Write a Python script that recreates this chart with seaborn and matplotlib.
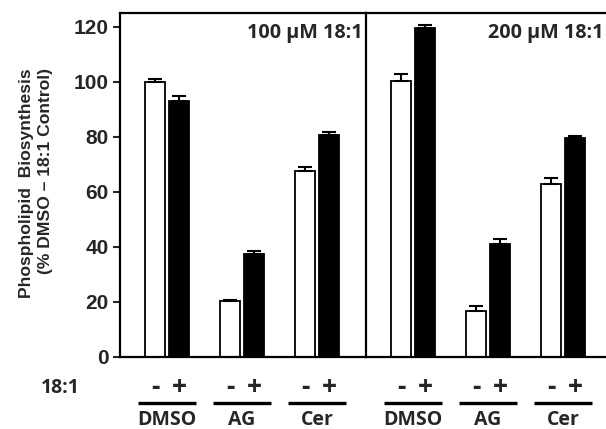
import numpy as np
import pandas as pd
import matplotlib
matplotlib.use("Agg")
import matplotlib.pyplot as plt
import matplotlib.transforms as mtransforms
import seaborn as sns

# ---- data ----
panels = ["100 µM 18:1", "200 µM 18:1"]
treatments = ["DMSO", "AG", "Cer"]
fa_levels = ["-", "+"]
# values (% DMSO - 18:1 control): rows = treatment, [minus, plus]
vals_100_minus = [100.0, 20.2, 67.7]
vals_100_plus = [93.0, 37.6, 80.6]
err_100_minus = [1.0, 0.4, 1.4]
err_100_plus = [2.0, 1.0, 1.2]
vals_200_minus = [100.3, 16.6, 62.9]
vals_200_plus = [119.5, 41.0, 79.4]
err_200_minus = [2.4, 1.8, 2.0]
err_200_plus = [1.3, 1.9, 0.9]
yticks = [0, 20, 40, 60, 80, 100, 120]

panel_data = [
    (vals_100_minus, vals_100_plus, err_100_minus, err_100_plus),
    (vals_200_minus, vals_200_plus, err_200_minus, err_200_plus),
]

sns.set_theme(style="white")
plt.rcParams["font.family"] = ["Liberation Sans", "DejaVu Sans"]
label_font = ["Open Sans", "DejaVu Sans"]

W, H = 606, 429
fig = plt.figure(figsize=(W / 100, H / 100), dpi=100)
bottom = 1 - 357 / H
height = (357 - 13) / H
ax1 = fig.add_axes([120 / W, bottom, 246 / W, height])
ax2 = fig.add_axes([366 / W, bottom, 248 / W, height])
axes = [ax1, ax2]

for k, ax in enumerate(axes):
    vm, vp, em, ep = panel_data[k]
    df = pd.DataFrame({
        "treatment": treatments * 2,
        "fa": ["-"] * 3 + ["+"] * 3,
        "value": vm + vp,
        "err": em + ep,
    })
    sns.barplot(data=df, x="treatment", y="value", hue="fa", order=treatments,
                hue_order=fa_levels, palette={"-": "white", "+": "black"},
                edgecolor="black", linewidth=1.3, width=0.64, gap=0.17,
                errorbar=None, legend=False, ax=ax, zorder=2)
    centers = []
    labels = []
    for lev, cont in zip(fa_levels, ax.containers):
        sub = df[df["fa"] == lev].set_index("treatment")
        for t, bar in zip(treatments, cont):
            xc = bar.get_x() + bar.get_width() / 2
            h = bar.get_height()
            ax.errorbar([xc], [h], yerr=[[0], [sub.loc[t, "err"]]], fmt="none",
                        ecolor="black", elinewidth=1.5, capsize=4.7, capthick=1.5,
                        zorder=3)
            centers.append(xc)
            labels.append(lev)
    ax.set_xticks(centers)
    ax.set_xticklabels(labels, fontsize=19, fontweight="bold", family=label_font)
    ax.tick_params(axis="x", length=0, pad=12)
    ax.set_xlim(-0.627, 2.653 if k == 0 else 2.68)
    ax.set_ylim(0, 125)
    ax.set_xlabel("")
    ax.set_ylabel("")
    for s in ax.spines.values():
        s.set_linewidth(1.6)
        s.set_color("black")
    ax.spines["right"].set_visible(k == 1)
    # group underline + labels
    trans = mtransforms.blended_transform_factory(ax.transData, ax.transAxes)
    for i, t in enumerate(treatments):
        ax.plot([i - 0.39, i + 0.39], [-0.134, -0.134], color="black", lw=2.4,
                transform=trans, clip_on=False, solid_capstyle="butt")
        ax.text(i, -0.183, t, transform=trans, ha="center", va="center",
                fontsize=14, fontweight="bold", family=label_font)

# panel titles
ax1.text(0.988, 0.942, panels[0], transform=ax1.transAxes, ha="right", va="center",
         fontsize=14.2, fontweight="bold", family=label_font)
ax2.text(0.99, 0.942, panels[1], transform=ax2.transAxes, ha="right", va="center",
         fontsize=14.2, fontweight="bold", family=label_font,
         clip_on=False)
# keep the second title fully inside the figure (reference crops it at the edge)
fig.canvas.draw()
t2 = ax2.texts[-1]
bb = t2.get_window_extent()
if bb.x1 > W - 2:
    off = mtransforms.offset_copy(ax2.transAxes, fig=fig, x=-(bb.x1 - (W - 2)), y=0,
                                  units="dots")
    t2.set_transform(off)

# y axis
ax1.set_yticks(yticks)
ax1.set_yticklabels([str(v) for v in yticks], fontsize=15, fontweight="bold")
ax1.tick_params(axis="y", direction="out", length=5, width=1.5, pad=3, left=True)
ax2.tick_params(axis="y", left=False, labelleft=False)

fig.text(36 / W, 1 - 183 / H, "Phospholipid  Biosynthesis\n(% DMSO – 18:1 Control)",
         rotation=90, ha="center", va="center", multialignment="right",
         fontsize=12.6, fontweight="bold", linespacing=1.35)

fig.text(60 / W, 1 - 388 / H, "18:1", ha="center", va="center",
         fontsize=14, fontweight="bold", family=label_font)

fig.savefig("out.png", dpi=100)
